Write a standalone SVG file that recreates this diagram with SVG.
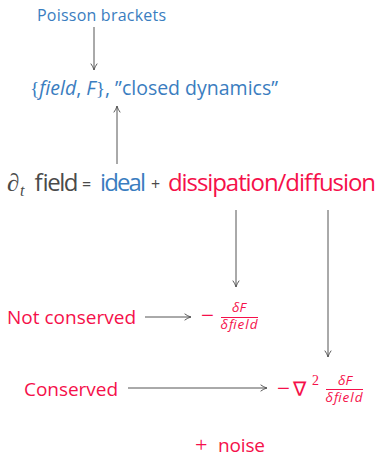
<svg xmlns="http://www.w3.org/2000/svg" width="379" height="457" viewBox="0 0 379 457">
<defs>
<style>
text{font-family:"Open Sans","Noto Sans",sans-serif}
.b{fill:#3a7dc0}
.r{fill:#f5104a}
.g{fill:#4a4a4a}
.m{font-family:"Liberation Serif","DejaVu Serif",serif}
.s{font-family:"DejaVu Sans",sans-serif}
.it{font-style:italic}
.c{stroke:#555;stroke-width:1;fill:none}
</style>
<marker id="ah" viewBox="0 0 10 10" refX="9" refY="5" markerWidth="8" markerHeight="8" markerUnits="userSpaceOnUse" orient="auto">
<path d="M1,1 Q5,4 9,5 Q5,6 1,9" fill="none" stroke="#555" stroke-width="1.2"/>
</marker>
</defs>
<rect width="379" height="457" fill="#fff"/>
<g id="connectors">
<line class="c" x1="94" y1="27" x2="94" y2="70" marker-end="url(#ah)"/>
<line class="c" x1="117" y1="164" x2="117" y2="106" marker-end="url(#ah)"/>
<line class="c" x1="236" y1="210" x2="236" y2="287" marker-end="url(#ah)"/>
<line class="c" x1="328" y1="210" x2="328" y2="357" marker-end="url(#ah)"/>
<line class="c" x1="145" y1="317" x2="191" y2="317" marker-end="url(#ah)"/>
<line class="c" x1="128" y1="388" x2="267" y2="388" marker-end="url(#ah)"/>
</g>
<g id="poisson"><text class="b" x="37" y="21" font-size="16" textLength="129">Poisson brackets</text></g>
<g id="bracket"><text class="b" x="30" y="95" font-size="19.5" textLength="248"><tspan class="m">{</tspan><tspan class="it">field</tspan>, <tspan class="it">F</tspan><tspan class="m">}</tspan>, ”closed dynamics”</text></g>
<g id="equation">
<text class="g m it" x="7" y="191" font-size="25">∂</text>
<text class="g m it" x="20" y="196" font-size="16">t</text>
<text class="g" x="33" y="191" font-size="24" textLength="44">field</text>
<text class="g" x="82" y="190" font-size="16">=</text>
<text class="b" x="100" y="191" font-size="24" textLength="46">ideal</text>
<text class="g" x="151" y="190" font-size="16">+</text>
<text class="r" x="168" y="191" font-size="24" textLength="208">dissipation/diffusion</text>
</g>
<g id="notconserved"><text class="r" x="7" y="324" font-size="19" textLength="129">Not conserved</text></g>
<g id="nc-expr">
<text class="r m" x="201" y="323" font-size="23" textLength="13">−</text>
<text class="r it" x="239" y="312" font-size="13.5" text-anchor="middle">δF</text>
<line x1="221" y1="317.5" x2="258" y2="317.5" stroke="#f5104a" stroke-width="1"/>
<text class="r it" x="239" y="329" font-size="13.5" text-anchor="middle" textLength="37">δfield</text>
</g>
<g id="conserved"><text class="r" x="24" y="396" font-size="19" textLength="94">Conserved</text></g>
<g id="c-expr">
<text class="r m" x="277" y="396" font-size="23" textLength="14">−</text>
<text class="r s" x="293" y="396" font-size="20">∇</text>
<text class="r m" x="312" y="385" font-size="14">2</text>
<text class="r it" x="345" y="385" font-size="13.5" text-anchor="middle">δF</text>
<line x1="326" y1="389.5" x2="363" y2="389.5" stroke="#f5104a" stroke-width="1"/>
<text class="r it" x="344" y="402" font-size="13.5" text-anchor="middle" textLength="37">δfield</text>
</g>
<g id="noise">
<text class="r m" x="195" y="452" font-size="22">+</text>
<text class="r" x="218" y="452" font-size="19" textLength="47">noise</text>
</g>
</svg>
